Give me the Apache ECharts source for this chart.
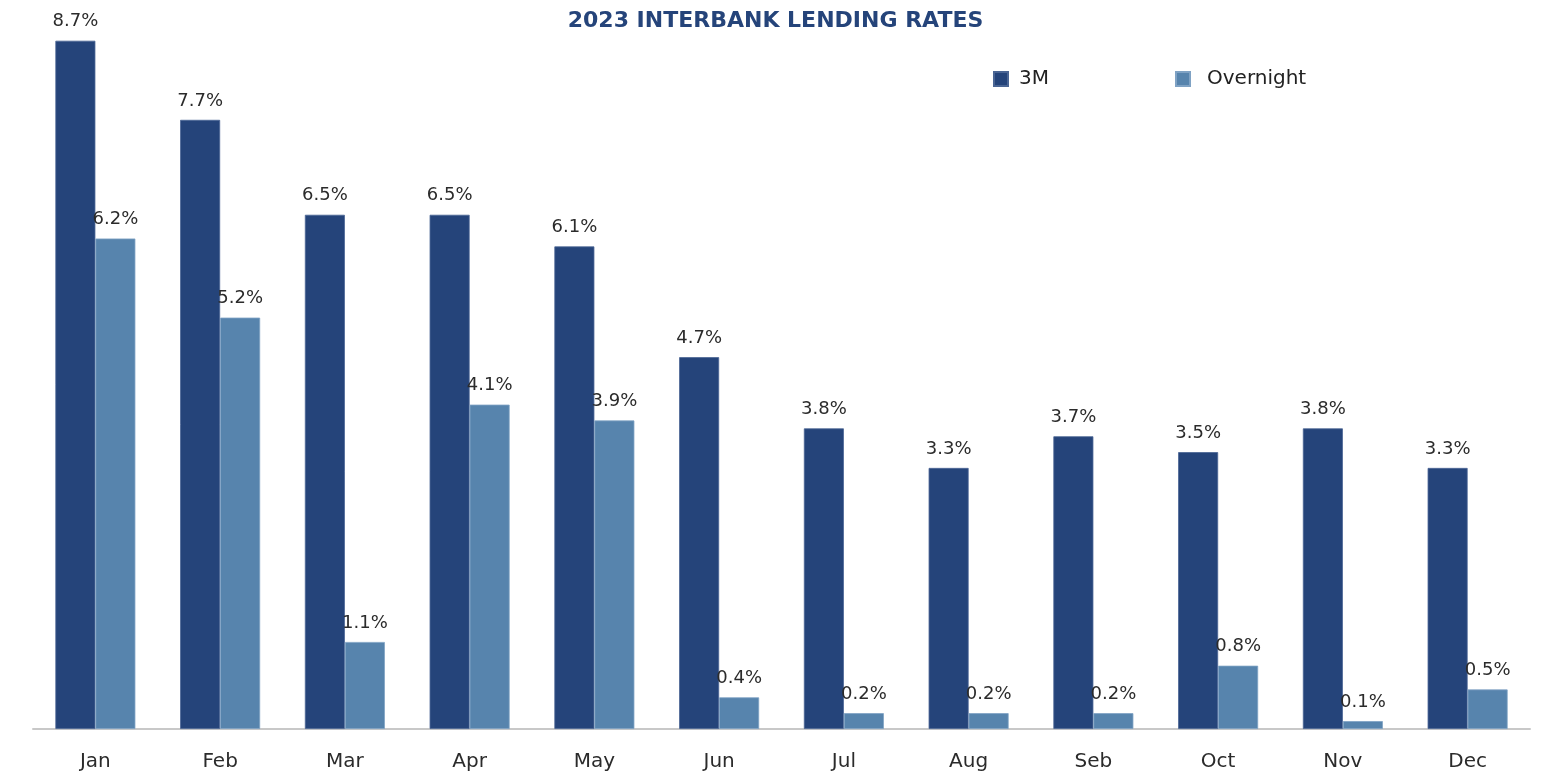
<!DOCTYPE html>
<html>
<head>
<meta charset="utf-8">
<script src="https://cdn.jsdelivr.net/npm/echarts@6/dist/echarts.min.js"></script>
<style>html,body{margin:0;padding:0;background:#fff;}#c{width:1551px;height:774px;}</style>
</head>
<body>
<div id="c"></div>
<script>
const categories = ['Jan','Feb','Mar','Apr','May','Jun','Jul','Aug','Seb','Oct','Nov','Dec'];
const rate3M = [8.7,7.7,6.5,6.5,6.1,4.7,3.8,3.3,3.7,3.5,3.8,3.3];
const rateOvernight = [6.2,5.2,1.1,4.1,3.9,0.4,0.2,0.2,0.2,0.8,0.1,0.5];

const FONT = '"DejaVu Sans", "Noto Sans", sans-serif';
const chart = echarts.init(document.getElementById('c'));
const lbl = {
  show: true, position: 'top', distance: 10,
  color: '#2b2b2b', fontSize: 18, fontFamily: FONT,
  formatter: p => p.value.toFixed(1) + '%'
};
chart.setOption({
  animation: false,
  title: {
    text: '2023 INTERBANK LENDING RATES', left: 'center', top: 5,
    textStyle: { color: '#25447A', fontSize: 22, fontWeight: 'bold', fontFamily: FONT }
  },
  legend: [
    { data: ['3M'], left: 988, top: 64, itemWidth: 14, itemHeight: 14, icon: 'rect',
      textStyle: { fontSize: 20, color: '#222', fontFamily: FONT, padding: [0,0,0,6] } },
    { data: ['Overnight'], left: 1170, top: 64, itemWidth: 14, itemHeight: 14, icon: 'rect',
      textStyle: { fontSize: 20, color: '#222', fontFamily: FONT, padding: [0,0,0,12] } }
  ],
  grid: { left: 33, right: 21, top: 17, bottom: 45, containLabel: false },
  xAxis: {
    type: 'category', data: categories,
    axisLine: { show: true, lineStyle: { color: '#c8c8c8', width: 2 } },
    axisTick: { show: false },
    axisLabel: { color: '#2b2b2b', fontSize: 20, fontFamily: FONT, margin: 23 }
  },
  yAxis: {
    type: 'value', min: 0, max: 9, show: false,
    splitLine: { show: false }
  },
  series: [
    { name: '3M', type: 'bar', data: rate3M, barWidth: 40, barGap: '0%',
      itemStyle: { color: '#25447A', borderColor: '#4a6594', borderWidth: 0.8 }, label: lbl },
    { name: 'Overnight', type: 'bar', data: rateOvernight, barWidth: 40,
      itemStyle: { color: '#5784AD', borderColor: '#7fa2c4', borderWidth: 0.8 }, label: lbl }
  ]
});
</script>
</body>
</html>
